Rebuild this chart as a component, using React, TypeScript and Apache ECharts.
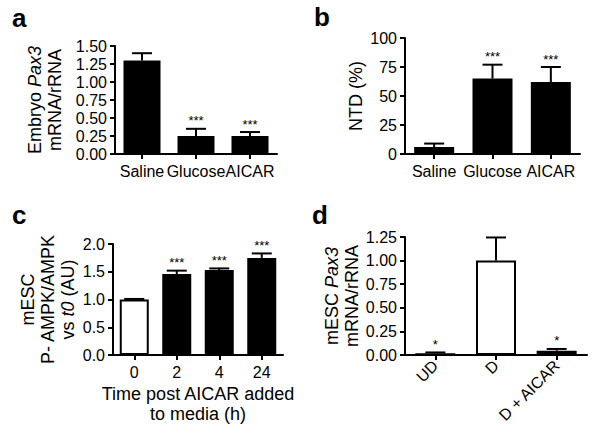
import React, { useEffect, useRef } from "react";
import * as echarts from "echarts";

const FONT = "'Liberation Sans', Arial, Helvetica, sans-serif";

// Panel a
const aCategories = ["Saline", "Glucose", "AICAR"];
const aMeans = [1.3, 0.25, 0.25];
const aSems = [0.1, 0.1, 0.055];
const aStars = ["", "***", "***"];

// Panel b
const bCategories = ["Saline", "Glucose", "AICAR"];
const bMeans = [6, 65, 62];
const bSems = [3, 12, 13];
const bStars = ["", "***", "***"];

// Panel c
const cCategories = ["0", "2", "4", "24"];
const cMeans = [1.0, 1.46, 1.53, 1.75];
const cSems = [0.01, 0.06, 0.03, 0.08];
const cStars = ["", "***", "***", "***"];
const cWhite = [true, false, false, false];

// Panel d
const dCategories = ["UD", "D", "D + AICAR"];
const dMeans = [0.018, 1.0, 0.046];
const dSems = [0.009, 0.245, 0.018];
const dStars = ["*", "", "*"];
const dWhite = [false, true, false];

const BLACK = "#000";

function barData(means: number[], white?: boolean[]) {
  return means.map((v, i) =>
    white && white[i]
      ? { value: v, itemStyle: { color: "#fff", borderColor: BLACK, borderWidth: 2 } }
      : { value: v, itemStyle: { color: BLACK } }
  );
}

function errSeries(idx: number, means: number[], sems: number[], stars: string[]) {
  return {
    type: "custom",
    xAxisIndex: idx,
    yAxisIndex: idx,
    z: 10,
    silent: true,
    data: means.map((m, i) => [i, m, m + sems[i]]),
    renderItem: (params: any, api: any) => {
      const i = api.value(0);
      const m = api.value(1);
      const t = api.value(2);
      const base = api.coord([i, m]);
      const top = api.coord([i, t]);
      const half = 10;
      const children: any[] = [
        {
          type: "line",
          shape: { x1: base[0], y1: base[1], x2: top[0], y2: top[1] },
          style: { stroke: BLACK, lineWidth: 2 },
        },
        {
          type: "line",
          shape: { x1: top[0] - half, y1: top[1], x2: top[0] + half, y2: top[1] },
          style: { stroke: BLACK, lineWidth: 2 },
        },
      ];
      const s = stars[params.dataIndex];
      if (s) {
        children.push({
          type: "text",
          style: {
            text: s,
            x: top[0],
            y: top[1] - 8,
            align: "center",
            verticalAlign: "middle",
            fontSize: 13,
            fontFamily: FONT,
            fill: BLACK,
          },
        });
      }
      return { type: "group", children };
    },
  };
}

const axisLineStyle = { show: true, lineStyle: { color: BLACK, width: 2 } };
const tickStyle = { show: true, length: 5, lineStyle: { color: BLACK, width: 2 } };
const labelBase = { color: BLACK, fontSize: 16, fontFamily: FONT };
const nameBase = {
  color: BLACK,
  fontSize: 18,
  fontFamily: FONT,
  lineHeight: 20,
  rich: {
    i: { fontStyle: "italic", fontSize: 18, fontFamily: FONT, color: BLACK, lineHeight: 20 },
  },
};

function xAxis(idx: number, cats: string[], extra: any = {}) {
  return {
    type: "category",
    gridIndex: idx,
    data: cats,
    axisLine: axisLineStyle,
    axisTick: { ...tickStyle, alignWithLabel: true },
    axisLabel: { ...labelBase, margin: 9, interval: 0, ...(extra.axisLabel || {}) },
    splitLine: { show: false },
    ...(extra.name
      ? {
          name: extra.name,
          nameLocation: "middle",
          nameGap: extra.nameGap,
          nameTextStyle: { ...nameBase, lineHeight: 20 },
        }
      : {}),
  };
}

function yAxis(idx: number, max: number, interval: number, digits: number, name: string, nameGap: number) {
  return {
    type: "value",
    gridIndex: idx,
    min: 0,
    max,
    interval,
    axisLine: axisLineStyle,
    axisTick: tickStyle,
    axisLabel: { ...labelBase, margin: 8, formatter: (v: number) => v.toFixed(digits) },
    splitLine: { show: false },
    name,
    nameLocation: "middle",
    nameGap,
    nameTextStyle: nameBase,
  };
}

function panelLabel(text: string, x: number, y: number) {
  return {
    type: "text",
    left: x,
    top: y,
    style: { text, fontSize: 26, fontWeight: "bold", fontFamily: FONT, fill: BLACK },
  };
}

export default function App() {
  const ref = useRef<HTMLDivElement>(null);
  useEffect(() => {
    if (!ref.current) return;
    const chart = echarts.init(ref.current, undefined, { renderer: "svg" });
    chart.setOption({
      animation: false,
      backgroundColor: "#fff",
      grid: [
        { left: 115, top: 46, width: 162, height: 108 },
        { left: 405, top: 38, width: 175, height: 116 },
        { left: 113, top: 244, width: 170, height: 111 },
        { left: 405, top: 237, width: 182, height: 118 },
      ],
      xAxis: [
        xAxis(0, aCategories),
        xAxis(1, bCategories),
        xAxis(2, cCategories, { name: "Time post AICAR added\nto media (h)", nameGap: 29 }),
        xAxis(3, dCategories, { axisLabel: { rotate: 45, margin: 8 } }),
      ],
      yAxis: [
        yAxis(0, 1.5, 0.25, 2, "Embryo {i|Pax3}\nmRNA/rRNA", 50),
        yAxis(1, 100, 25, 0, "NTD (%)", 38),
        yAxis(2, 2.0, 0.5, 1, "mESC\nP- AMPK/AMPK\nvs {i|t0} (AU)", 35),
        yAxis(3, 1.25, 0.25, 2, "mESC {i|Pax3}\nmRNA/rRNA", 40),
      ],
      series: [
        { type: "bar", xAxisIndex: 0, yAxisIndex: 0, barWidth: 37, data: barData(aMeans) },
        errSeries(0, aMeans, aSems, aStars),
        { type: "bar", xAxisIndex: 1, yAxisIndex: 1, barWidth: 40, data: barData(bMeans) },
        errSeries(1, bMeans, bSems, bStars),
        { type: "bar", xAxisIndex: 2, yAxisIndex: 2, barWidth: 29, data: barData(cMeans, cWhite) },
        errSeries(2, cMeans, cSems, cStars),
        { type: "bar", xAxisIndex: 3, yAxisIndex: 3, barWidth: 40, data: barData(dMeans, dWhite) },
        errSeries(3, dMeans, dSems, dStars),
      ],
      graphic: [
        panelLabel("a", 12, 5),
        panelLabel("b", 314, 4),
        panelLabel("c", 12, 202),
        panelLabel("d", 312, 202),
      ],
    });
    return () => chart.dispose();
  }, []);
  return (
    <div
      ref={ref}
      style={{ position: "fixed", left: 0, top: 0, width: 601, height: 431, background: "#fff" }}
    />
  );
}
